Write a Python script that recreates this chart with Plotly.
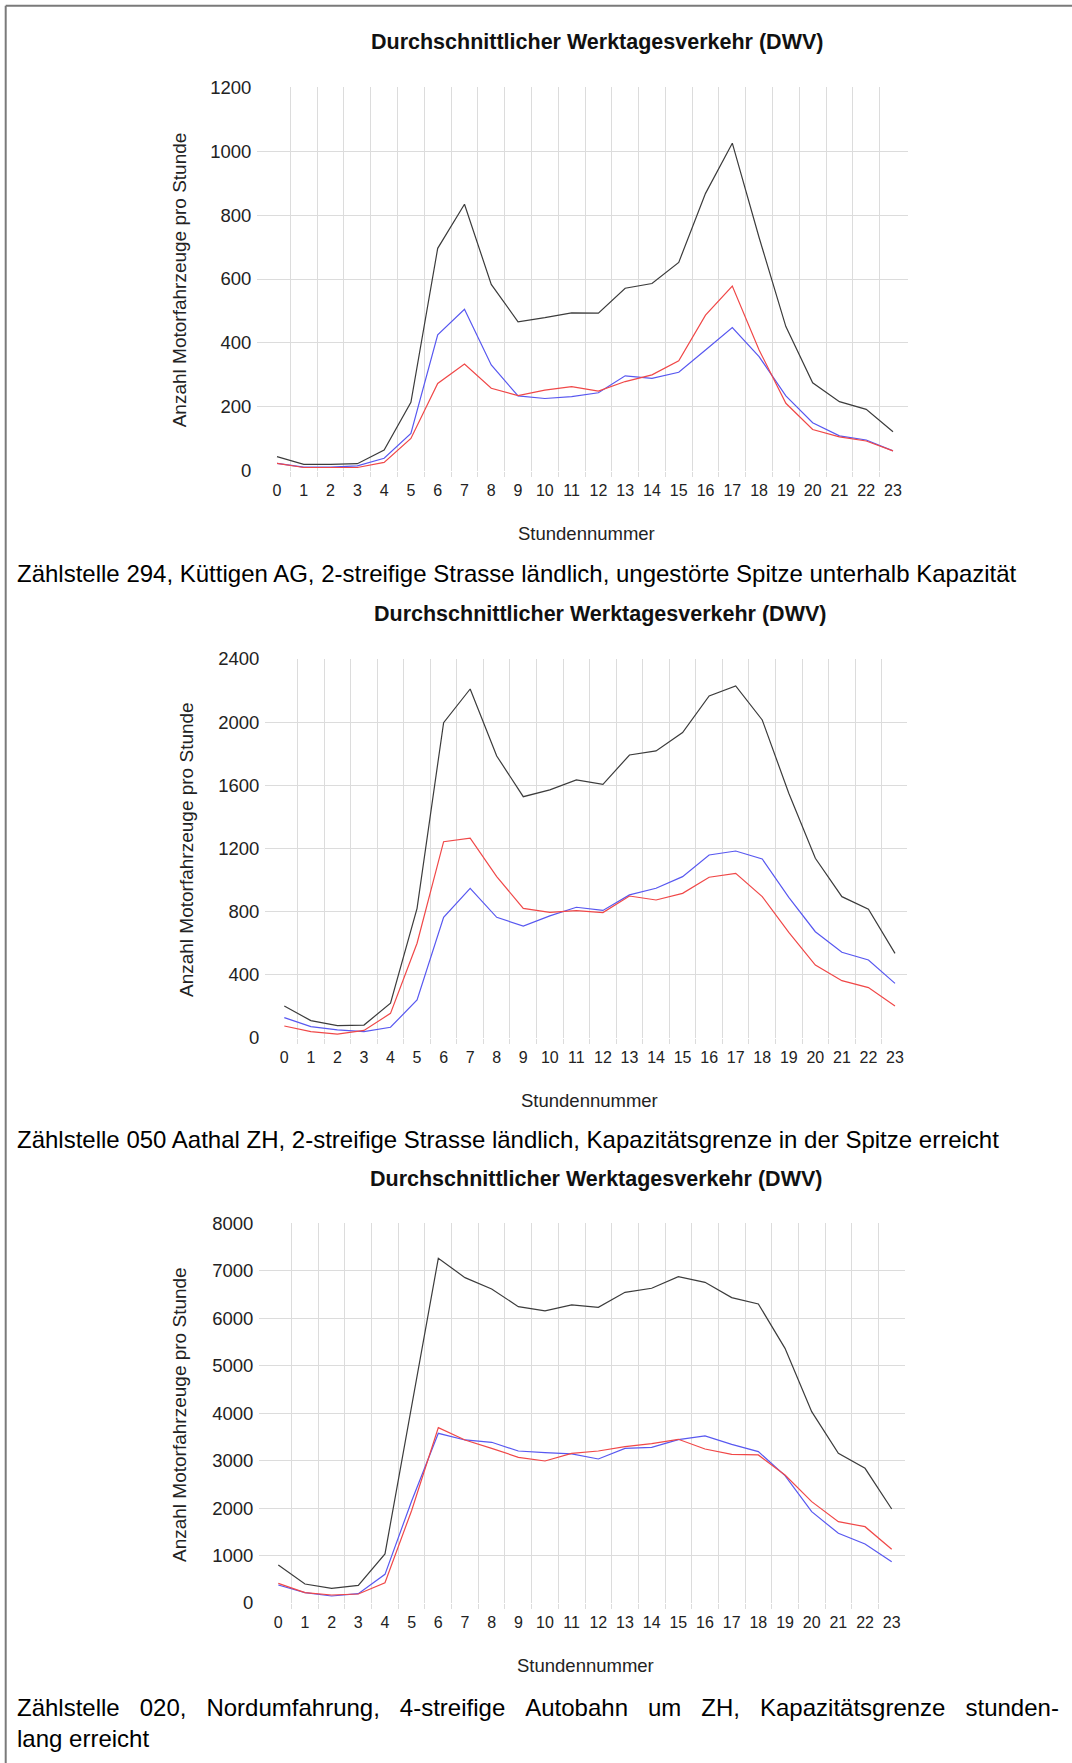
import plotly.graph_objects as go

# ---------------- data ----------------
hours = list(range(24))
hour_labels = [str(h) for h in hours]

chart_title = "Durchschnittlicher Werktagesverkehr (DWV)"
y_title = "Anzahl Motorfahrzeuge pro Stunde"
x_title = "Stundennummer"

# Chart 1: Zählstelle 294, Küttigen AG
c1_total = [44, 20, 20, 22, 65, 214, 696, 834, 583, 466, 479, 494, 493, 571, 586, 652, 868, 1025, 730, 451, 275, 216, 192, 122]
c1_red = [23, 10, 10, 10, 26, 101, 273, 334, 258, 235, 252, 263, 249, 279, 300, 344, 487, 578, 378, 211, 129, 106, 93, 62]
c1_blue = [23, 11, 11, 15, 39, 117, 425, 505, 331, 234, 226, 232, 244, 297, 289, 308, 378, 448, 357, 234, 150, 109, 96, 62]

# Chart 2: Zählstelle 050 Aathal ZH
c2_total = [203, 110, 78, 82, 220, 821, 1997, 2210, 1786, 1528, 1571, 1634, 1606, 1792, 1818, 1934, 2166, 2229, 2014, 1550, 1138, 895, 815, 536]
c2_red = [76, 40, 25, 48, 156, 600, 1243, 1265, 1022, 821, 796, 806, 794, 899, 874, 916, 1018, 1043, 895, 669, 462, 363, 319, 203]
c2_blue = [129, 72, 51, 40, 68, 241, 764, 948, 764, 709, 773, 828, 808, 906, 948, 1022, 1159, 1184, 1134, 891, 673, 543, 494, 346]

# Chart 3: Zählstelle 020, Nordumfahrung
c3_total = [801, 400, 309, 372, 1033, 4150, 7263, 6855, 6617, 6244, 6153, 6280, 6230, 6546, 6631, 6877, 6757, 6434, 6301, 5366, 4032, 3154, 2838, 1981]
c3_red = [414, 218, 169, 190, 428, 1950, 3695, 3435, 3259, 3070, 2992, 3154, 3203, 3294, 3357, 3449, 3245, 3133, 3119, 2697, 2135, 1714, 1608, 1131]
c3_blue = [379, 218, 148, 197, 604, 2150, 3575, 3435, 3386, 3203, 3168, 3140, 3034, 3259, 3280, 3442, 3519, 3343, 3189, 2683, 1925, 1468, 1243, 871]

y_max = [1200, 2400, 8000]
y_step = [200, 400, 1000]

# caption lines: (text, justified?)
captions = [
    [("Zählstelle 294, Küttigen AG, 2-streifige Strasse ländlich, ungestörte Spitze unterhalb Kapazität", False)],
    [("Zählstelle 050 Aathal ZH, 2-streifige Strasse ländlich, Kapazitätsgrenze in der Spitze erreicht", False)],
    [("Zählstelle 020, Nordumfahrung, 4-streifige Autobahn um ZH, Kapazitätsgrenze stunden-", True),
     ("lang erreicht", False)],
]

series = [
    (c1_total, c1_red, c1_blue),
    (c2_total, c2_red, c2_blue),
    (c3_total, c3_red, c3_blue),
]

# ---------------- layout (pixel geometry) ----------------
W, H = 1072, 1763
FONT = "Liberation Sans, Arial, Helvetica, sans-serif"
GRID = "#dcdcdc"
COL_TOTAL = "#3c3c3c"
COL_RED = "#f04848"
COL_BLUE = "#5858f0"

geom = [
    dict(left=257, right=907.7, lab0=277, lab23=893, top=87.3, bottom=470.7,
         title=(597, 41.6), ytit=(179, 280.3), xtit=(586, 533), cap=[573.7]),
    dict(left=265, right=906.7, lab0=284.3, lab23=895, top=659, bottom=1038,
         title=(600, 614), ytit=(186, 850), xtit=(589.5, 1100), cap=[1139.5]),
    dict(left=259, right=905, lab0=278.3, lab23=891.7, top=1223.3, bottom=1603,
         title=(596, 1179), ytit=(179, 1415), xtit=(585, 1665), cap=[1707.6, 1738]),
]


def px(x):
    return x / W


def py(y):
    return 1 - y / H


def justify(text):
    # widen word gaps like a justified paragraph line
    return "\u00a0\u00a0\u00a0".join(text.split(" "))


fig = go.Figure()
annotations = []
layout_axes = {}

for i, (g, (tot, red, blue)) in enumerate(zip(geom, series)):
    sfx = "" if i == 0 else str(i + 1)
    xa, ya = "x" + sfx, "y" + sfx
    for vals, col in ((tot, COL_TOTAL), (blue, COL_BLUE), (red, COL_RED)):
        fig.add_trace(go.Scatter(
            x=hours, y=vals, mode="lines", xaxis=xa, yaxis=ya,
            line=dict(color=col, width=1.2), showlegend=False, hoverinfo="skip"))

    s = (g["lab23"] - g["lab0"]) / 23.0
    r0 = -(g["lab0"] - g["left"]) / s
    r1 = 23 + (g["right"] - g["lab23"]) / s

    layout_axes["xaxis" + sfx] = dict(
        domain=[px(g["left"]), px(g["right"])],
        range=[r0, r1], anchor=ya, automargin=False,
        tickmode="array", tickvals=hours, ticktext=hour_labels,
        showgrid=False, zeroline=False, showline=False,
        ticks="outside", ticklen=5, tickcolor="rgba(0,0,0,0)",
        tickfont=dict(family=FONT, size=16, color="#222222"),
        minor=dict(tickmode="array", tickvals=[h + 0.5 for h in range(23)],
                   showgrid=True, gridcolor=GRID, gridwidth=1,
                   ticks="outside", ticklen=5, tickcolor=GRID),
        fixedrange=True,
    )
    layout_axes["yaxis" + sfx] = dict(
        domain=[py(g["bottom"]), py(g["top"])],
        range=[0, y_max[i]], anchor=xa, automargin=False,
        tickmode="linear", tick0=0, dtick=y_step[i],
        showgrid=True, gridcolor=GRID, gridwidth=1,
        zeroline=False, showline=False,
        ticks="outside", ticklen=1, tickcolor="rgba(0,0,0,0)",
        tickfont=dict(family=FONT, size=18.5, color="#222222"),
        fixedrange=True,
    )

    annotations.append(dict(
        text="<b>" + chart_title + "</b>", x=px(g["title"][0]), y=py(g["title"][1]),
        xref="paper", yref="paper", xanchor="center", yanchor="middle", showarrow=False,
        font=dict(family=FONT, size=21.5, color="#111111")))
    annotations.append(dict(
        text=y_title, x=px(g["ytit"][0]), y=py(g["ytit"][1]), textangle=-90,
        xref="paper", yref="paper", xanchor="center", yanchor="middle", showarrow=False,
        font=dict(family=FONT, size=19, color="#222222")))
    annotations.append(dict(
        text=x_title, x=px(g["xtit"][0]), y=py(g["xtit"][1]),
        xref="paper", yref="paper", xanchor="center", yanchor="middle", showarrow=False,
        font=dict(family=FONT, size=18.5, color="#222222")))
    for (line, just), cy in zip(captions[i], g["cap"]):
        annotations.append(dict(
            text=justify(line) if just else line, x=px(15), y=py(cy),
            xref="paper", yref="paper", xanchor="left", yanchor="middle", showarrow=False,
            font=dict(family=FONT, size=24, color="#000000")))

shapes = [
    dict(type="line", xref="paper", yref="paper", x0=px(5.7), x1=1.0, y0=py(5.7), y1=py(5.7),
         line=dict(color="#7a7a7a", width=2)),
    dict(type="line", xref="paper", yref="paper", x0=px(5.7), x1=px(5.7), y0=py(5.7), y1=0.0,
         line=dict(color="#7a7a7a", width=2)),
]

fig.update_layout(
    width=W, height=H, autosize=False,
    margin=dict(l=0, r=0, t=0, b=0, pad=0, autoexpand=False),
    paper_bgcolor="white", plot_bgcolor="white",
    font=dict(family=FONT),
    annotations=annotations, shapes=shapes,
    showlegend=False,
    **layout_axes,
)

fig.write_html(
    "out.html",
    config={"displayModeBar": False},
    post_script=("document.body.style.margin='0';document.body.style.padding='0';"
                 "document.documentElement.style.margin='0';"),
)
